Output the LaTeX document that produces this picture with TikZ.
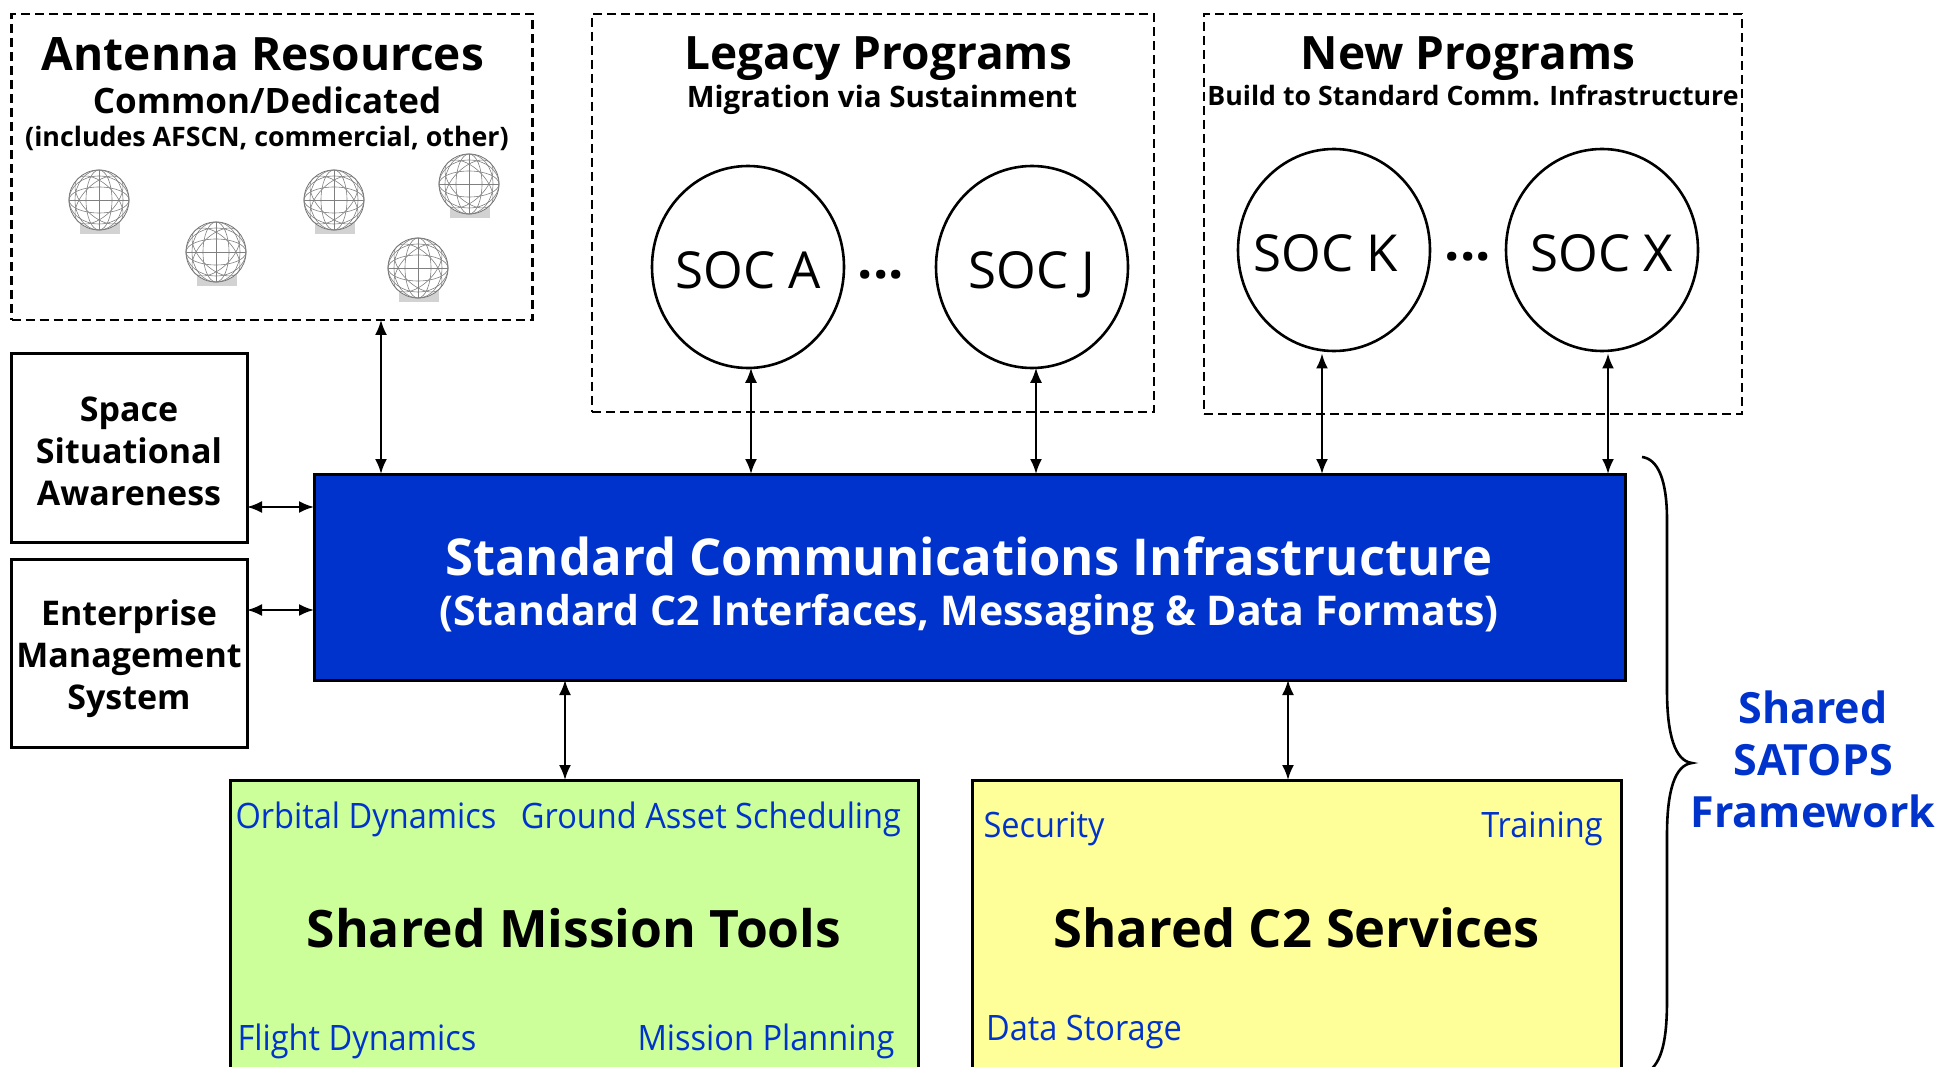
\documentclass[tikz,border=0pt]{standalone}
\usepackage{fontspec}
\setmainfont{Open Sans}
\newfontfamily\etroit[FakeStretch=0.93]{Open Sans}
\usetikzlibrary{arrows.meta,shapes,positioning,calc}
\definecolor{bleu}{rgb}{0,0.2,0.8}
\definecolor{vert}{rgb}{0.8,1,0.6}
\definecolor{jaune}{rgb}{1,1,0.6}
\newcommand{\fs}[1]{\fontsize{#1}{#1}\selectfont}
\tikzset{
  zone/.style={rectangle,draw,dash pattern=on 9pt off 5pt,line width=2.8pt,anchor=center},
  boite/.style={rectangle,draw,line width=3pt,inner sep=0pt},
  bloc/.style={align=center,inner sep=0pt,font=\fs{34}\bfseries},
  soc/.style={ellipse,draw,line width=2.6pt,inner sep=-20pt,minimum width=192pt,minimum height=202pt,text height=43pt,text depth=0pt,font=\fs{51}},
  titre/.style={inner sep=0pt,font=\fs{46}\bfseries},
  outil/.style={inner sep=0pt,text=bleu,font=\etroit\fs{35}},
  lien/.style={{Latex[length=15pt,width=12pt]}-{Latex[length=15pt,width=12pt]},line width=2.2pt,shorten <=-1.5pt,shorten >=-1.5pt},
  dome/.pic={
    \fill[gray!35] (-19,22) rectangle (21,34);
    \draw[black!55,fill=white,line width=0.8pt] (0,0) circle (30);
    \foreach \r in {0,90} {
      \draw[black!50,line width=0.6pt,rotate=\r] (0,-30) -- (0,30);
      \draw[black!50,line width=0.6pt,rotate=\r] (0,0) ellipse [x radius=13,y radius=30];
      \draw[black!50,line width=0.6pt,rotate=\r] (0,0) ellipse [x radius=24,y radius=30];
    }
    \foreach \r in {45,135} {
      \draw[black!50,line width=0.6pt,rotate=\r] (0,0) ellipse [x radius=16,y radius=30];
    }
  }
}
\begin{document}
\begin{tikzpicture}[x=1pt,y=-1pt]
\clip (0,0) rectangle (1939,1067);
% description et nommage des noeuds
% zones du haut
\node (AR) at (272,167) [zone,minimum width=521pt,minimum height=306pt] {};
\node (LP) at (873,213) [zone,minimum width=562pt,minimum height=398pt] {};
\node (NP) at (1473,214) [zone,minimum width=538pt,minimum height=400pt] {};
\node (ARa) at (263,54) [titre] {Antenna Resources};
\node (ARb) at (267,100) [inner sep=0pt,font=\fs{35}\bfseries] {Common/Dedicated};
\node (ARc) at (267,138) [inner sep=0pt,font=\fs{26.8}\bfseries] {(includes AFSCN, commercial, other)};
\node (LPa) at (878,59) [titre] {Legacy Programs};
\node (LPb) at (882,100) [inner sep=0pt,font=\fs{29.5}\bfseries] {Migration via Sustainment};
\node (NPa) at (1468,59) [titre] {New Programs};
\node (NPb) at (1473,95) [inner sep=0pt,font=\fs{26.7}\bfseries] {Build to Standard Comm. Infrastructure};
% antennes
\pic at (99,200) {dome};
\pic at (216,252) {dome};
\pic at (334,200) {dome};
\pic at (469,184) {dome};
\pic at (418,268) {dome};
% cercles
\node (SA) at (748,267) [soc] {SOC A};
\node (SJ) at (1032,267) [soc] {SOC J};
\node (SK) at (1334,250) [soc] {SOC K\kern16pt};
\node (SX) at (1602,250) [soc] {SOC X};
\node (PA) at (881,275) [inner sep=0pt,font=\fs{54}\bfseries] {...};
\node (PB) at (1468,257) [inner sep=0pt,font=\fs{54}\bfseries] {...};
% boites
\node (SSA) at (129,448) [boite,minimum width=236pt,minimum height=188pt] {};
\node (EMS) at (129,653) [boite,minimum width=236pt,minimum height=188pt] {};
\node (SCI) at (969.5,577) [boite,fill=bleu,minimum width=1311pt,minimum height=206pt] {};
\node (SMT) at (574,928) [boite,fill=vert,minimum width=688pt,minimum height=296pt,font=\fs{51.6}\bfseries] {Shared Mission Tools};
\node (SC2) at (1296.5,928) [boite,fill=jaune,minimum width=649pt,minimum height=296pt,font=\fs{52.5}\bfseries] {Shared C2 Services};
\node (SSAt) at (129,451) [bloc] {Space\\[8pt]Situational\\[8pt]Awareness};
\node (EMSt) at (129,659) [bloc] {Enterprise\\[8pt]Management\\[8pt]System};
\node (SCIa) at (969,556) [inner sep=0pt,text=white,font=\fs{50.8}\bfseries] {Standard Communications Infrastructure};
\node (SCIb) at (969,615) [inner sep=0pt,text=white,font=\fs{41}\bfseries] {(Standard C2 Interfaces, Messaging \& Data Formats)};
% textes bleus
\node (OD) at (366,819) [outil] {Orbital Dynamics};
\node (GA) at (711,819) [outil] {Ground Asset Scheduling};
\node (FD) at (357,1041) [outil] {Flight Dynamics};
\node (MP) at (766,1041) [outil] {Mission Planning};
\node (SE) at (1044,829) [outil] {Security};
\node (TR) at (1542,829) [outil] {Training};
\node (DS) at (1084,1032) [outil] {Data Storage};
\node (SF) at (1813,759) [align=center,inner sep=0pt,text=bleu,font=\fs{43}\bfseries] {Shared\\[9pt]SATOPS\\[9pt]Framework};
% points de depart des aretes
\coordinate (xa) at (381,0);
\coordinate (xb) at (751,0);
\coordinate (xc) at (1036,0);
\coordinate (xd) at (1322,355);
\coordinate (xe) at (1608,355);
\coordinate (xf) at (565,0);
\coordinate (xg) at (1288,0);
\coordinate (ya) at (0,507);
\coordinate (yb) at (0,610);
% description des aretes
\draw[lien] (AR.south -| xa) -- (SCI.north -| xa);
\draw[lien] (SA.south -| xb) -- (SCI.north -| xb);
\draw[lien] (SJ.south -| xc) -- (SCI.north -| xc);
\draw[lien] (xd) -- (SCI.north -| xd);
\draw[lien] (xe) -- (SCI.north -| xe);
\draw[lien] (SSA.east |- ya) -- (SCI.west |- ya);
\draw[lien] (EMS.east |- yb) -- (SCI.west |- yb);
\draw[lien] (SCI.south -| xf) -- (SMT.north -| xf);
\draw[lien] (SCI.south -| xg) -- (SC2.north -| xg);
% accolade
\draw[line width=2.6pt] (1642,457) .. controls (1658,459) and (1667,480) .. (1667,520) -- (1667,690)
  .. controls (1667,735) and (1675,761) .. (1692,763) .. controls (1675,765) and (1667,790) .. (1667,835)
  -- (1667,1000) .. controls (1667,1040) and (1662,1062) .. (1648,1072);
\end{tikzpicture}
\end{document}
